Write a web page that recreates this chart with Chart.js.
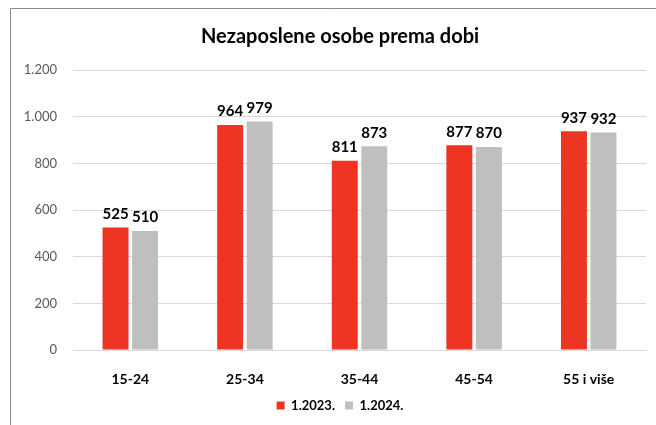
<!DOCTYPE html>
<html>
<head>
<meta charset="utf-8">
<script src="https://cdn.jsdelivr.net/npm/chart.js@4/dist/chart.umd.min.js"></script>
<style>
html,body{margin:0;padding:0;background:#fff;}
#wrap{position:relative;width:656px;height:425px;}
</style>
</head>
<body>
<div id="wrap"><canvas id="c" width="656" height="425"></canvas></div>
<script>
const categories = ['15-24', '25-34', '35-44', '45-54', '55 i više'];
const series2023 = [525, 964, 811, 877, 937];
const series2024 = [510, 979, 873, 870, 932];
const seriesNames = ['1.2023.', '1.2024.'];
const yTicks = [0, 200, 400, 600, 800, 1000, 1200];
const titleText = 'Nezaposlene osobe prema dobi';

const FONT = 'Lato, "Open Sans", sans-serif';
const fmt = v => v.toString().replace(/\B(?=(\d{3})+(?!\d))/g, '.');

const dataLabels = {
  id: 'dataLabels',
  afterDatasetsDraw(chart) {
    const ctx = chart.ctx;
    ctx.save();
    ctx.font = 'bold 15px ' + FONT;
    ctx.fillStyle = '#000';
    ctx.textAlign = 'center';
    ctx.textBaseline = 'bottom';
    chart.data.datasets.forEach((ds, i) => {
      chart.getDatasetMeta(i).data.forEach((bar, j) => {
        ctx.fillText(fmt(ds.data[j]), bar.x, bar.y - 6);
      });
    });
    ctx.restore();
  }
};

const frame = {
  id: 'frame',
  afterLayout(chart) {
    const shift = 17;
    [chart.titleBlock, chart.legend].forEach(b => {
      if (b) { b.left += shift; b.right += shift; }
    });
  },
  afterDraw(chart) {
    const ctx = chart.ctx;
    ctx.save();
    ctx.strokeStyle = '#8a8a8a';
    ctx.lineWidth = 1;
    ctx.beginPath();
    ctx.moveTo(10.5, 425);
    ctx.lineTo(10.5, 8.5);
    ctx.lineTo(656, 8.5);
    ctx.stroke();
    ctx.restore();
  }
};

new Chart(document.getElementById('c'), {
  type: 'bar',
  data: {
    labels: categories,
    datasets: [
      { label: seriesNames[0], data: series2023, backgroundColor: '#EE3524' },
      { label: seriesNames[1], data: series2024, backgroundColor: '#BFBFBF' }
    ]
  },
  options: {
    responsive: false,
    animation: false,
    devicePixelRatio: 1,
    layout: { padding: { left: 0, right: 10, top: 0, bottom: 3 } },
    datasets: { bar: { categoryPercentage: 0.515, barPercentage: 0.88 } },
    scales: {
      x: {
        grid: { display: false, drawTicks: false },
        border: { display: true, color: '#D9D9D9', width: 1 },
        ticks: { color: '#000', font: { family: FONT, size: 14, weight: 'bold' }, padding: 21 },
        afterFit(s) { s.height = 39; }
      },
      y: {
        min: 0, max: 1200,
        afterBuildTicks(s) { s.ticks = yTicks.map(v => ({ value: v })); },
        grid: { color: '#D9D9D9', drawTicks: false },
        border: { display: false },
        ticks: { color: '#595959', font: { family: FONT, size: 13 }, padding: 16, callback: v => fmt(v) },
        afterFit(s) { s.width = 73; }
      }
    },
    plugins: {
      title: {
        display: true, text: titleText, color: '#000',
        font: { family: FONT, size: 20, weight: 'bold' },
        padding: { top: 25, bottom: 21 }
      },
      legend: {
        position: 'bottom',
        labels: { boxWidth: 8, boxHeight: 8, color: '#000', font: { family: FONT, size: 13, weight: 'bold' }, padding: 10 }
      },
      tooltip: { enabled: false }
    }
  },
  plugins: [dataLabels, frame]
});
</script>
</body>
</html>
